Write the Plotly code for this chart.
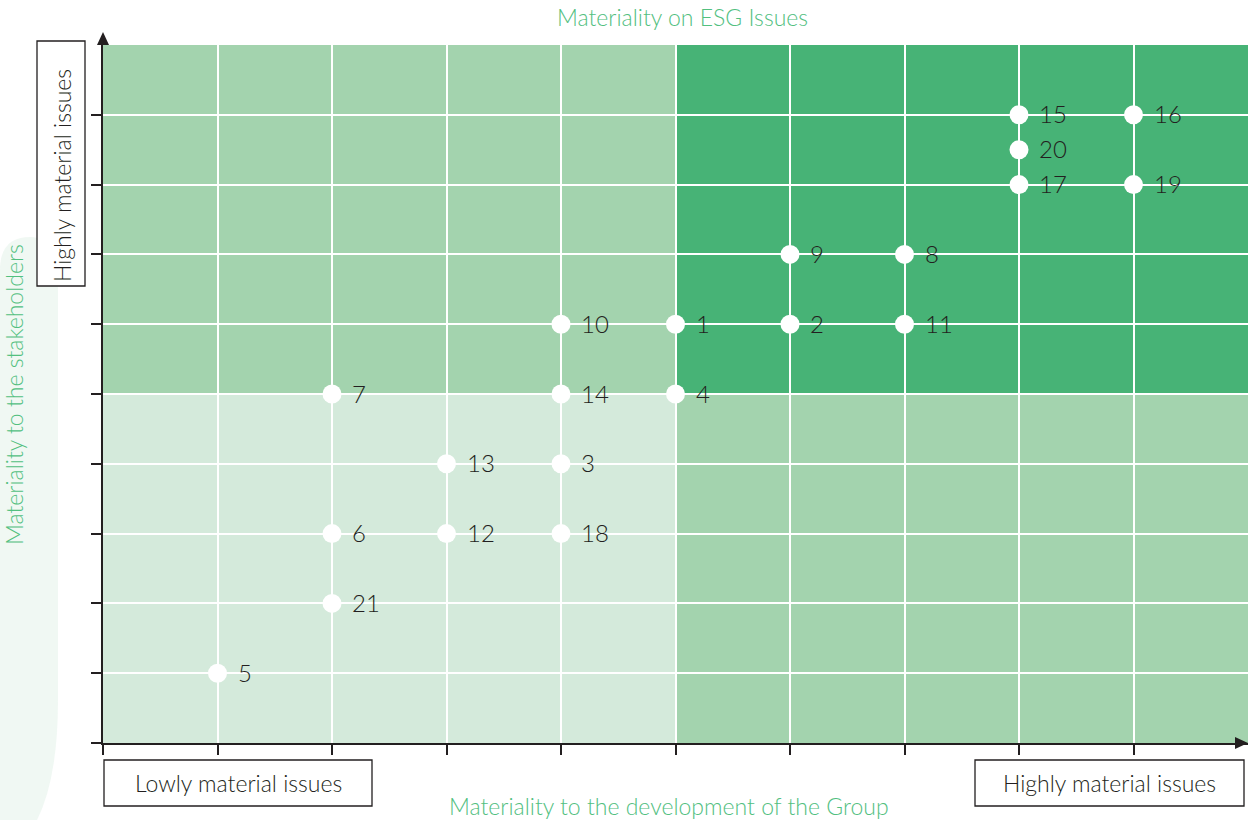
import plotly.graph_objects as go

# ---- data ----
issue_ids = ["5", "21", "6", "7", "13", "12", "10", "14", "3", "18", "1", "4",
             "9", "2", "8", "11", "15", "20", "17", "16", "19"]
group_materiality = [1, 2, 2, 2, 3, 3, 4, 4, 4, 4, 5, 5, 6, 6, 7, 7, 8, 8, 8, 9, 9]
stakeholder_materiality = [1, 2, 3, 5, 4, 3, 6, 5, 4, 3, 6, 5, 7, 6, 7, 6, 9, 8.5, 8, 9, 8]
tick_values = list(range(0, 10))

W, H = 1248, 820
L, R, T, B = 103, 1248, 45, 743

def px(x):
    return (x - L) / (R - L)

def py(y):
    return (B - y) / (B - T)

DARK = "#231f20"
GREEN_TXT = "#52c07f"
C_LIGHT = "#d4eadb"
C_MED = "#a3d3ae"
C_DARK = "#47b376"
FONT = "Lato"

fig = go.Figure()

fig.add_trace(go.Scatter(
    x=group_materiality, y=stakeholder_materiality, mode="markers",
    marker=dict(size=19, color="white", line=dict(width=0)),
    cliponaxis=False, hoverinfo="skip", showlegend=False))

shapes = []
# decorative background shape on the left
shapes.append(dict(
    type="path", xref="paper", yref="paper", layer="below",
    path=(f"M {px(0)},{py(270)} Q {px(0)},{py(237)} {px(30)},{py(237)} "
          f"Q {px(58)},{py(237)} {px(58)},{py(290)} L {px(58)},{py(700)} "
          f"Q {px(58)},{py(780)} {px(36)},{py(822)} L {px(0)},{py(822)} Z"),
    fillcolor="rgba(230,243,235,0.6)", line=dict(width=0)))
# quadrants
for (x0, x1, y0, y1, c) in [(0, 5, 0, 5, C_LIGHT), (0, 5, 5, 10, C_MED),
                            (5, 10, 5, 10, C_DARK), (5, 10, 0, 5, C_MED)]:
    shapes.append(dict(type="rect", xref="x", yref="y", x0=x0, x1=x1, y0=y0, y1=y1,
                       fillcolor=c, line=dict(width=0), layer="below"))
# arrows
shapes.append(dict(type="path", xref="paper", yref="paper",
                   path=f"M {px(97)},{py(45)} L {px(109)},{py(45)} L {px(103)},{py(32)} Z",
                   fillcolor=DARK, line=dict(width=0)))
shapes.append(dict(type="path", xref="paper", yref="paper",
                   path=f"M {px(1235)},{py(737)} L {px(1235)},{py(749)} L {px(1248)},{py(743)} Z",
                   fillcolor=DARK, line=dict(width=0)))
# label boxes
for (x0, y0, x1, y1) in [(37, 41, 85, 286), (104, 760, 372, 806), (975, 760, 1244, 806)]:
    shapes.append(dict(type="rect", xref="paper", yref="paper",
                       x0=px(x0), x1=px(x1), y0=py(y1), y1=py(y0),
                       fillcolor="white", line=dict(color=DARK, width=1.3)))

annotations = []
for i, xv, yv in zip(issue_ids, group_materiality, stakeholder_materiality):
    annotations.append(dict(x=xv, y=yv, xref="x", yref="y", text=i, showarrow=False,
                            xanchor="left", yanchor="middle", xshift=18, yshift=1,
                            font=dict(family=FONT, size=24, color=DARK, weight=300)))

def ann(text, x, y, size=23, color=DARK, angle=0):
    annotations.append(dict(x=px(x), y=py(y), xref="paper", yref="paper", text=text,
                            showarrow=False, xanchor="center", yanchor="middle",
                            textangle=angle,
                            font=dict(family=FONT, size=size, color=color, weight=300)))

ann("Highly material issues", 62, 176, angle=-90)
ann("Lowly material issues", 238, 783)
ann("Highly material issues", 1109, 783)
ann("Materiality on ESG Issues", 682, 17, color=GREEN_TXT)
ann("Materiality to the development of the Group", 669, 806, color=GREEN_TXT)
ann("Materiality to the stakeholders", 14, 395, color=GREEN_TXT, angle=-90)

axis_common = dict(range=[0, 10], tickvals=tick_values, showticklabels=False,
                   ticks="outside", ticklen=10, tickwidth=1.5, tickcolor=DARK,
                   showgrid=True, gridcolor="white", gridwidth=2,
                   showline=True, linecolor=DARK, linewidth=1.5,
                   zeroline=False, fixedrange=True)

fig.update_layout(
    width=W, height=H,
    margin=dict(l=L, r=W - R, t=T, b=H - B, pad=0),
    paper_bgcolor="white", plot_bgcolor="rgba(0,0,0,0)",
    xaxis=axis_common, yaxis=axis_common,
    shapes=shapes, annotations=annotations, showlegend=False)

fig.write_html("out.html")
